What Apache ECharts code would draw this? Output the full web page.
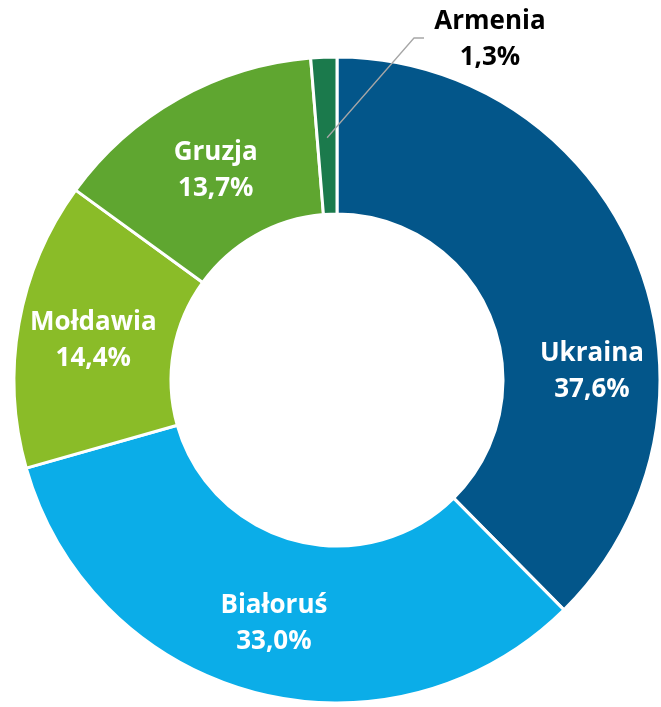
<!DOCTYPE html>
<html>
<head>
<meta charset="utf-8">
<script src="https://cdn.jsdelivr.net/npm/echarts@6/dist/echarts.min.js"></script>
<style>
html,body{margin:0;padding:0;background:#fff;}
#chart{width:661px;height:707px;}
</style>
</head>
<body>
<div id="chart"></div>
<script>
const categories = ['Ukraina', 'Białoruś', 'Mołdawia', 'Gruzja', 'Armenia'];
const values = [37.6, 33.0, 14.4, 13.7, 1.3];
const colors = ['#03568A', '#0BADE8', '#8ABC28', '#5FA630', '#1B7A4C'];

const CX = 337, CY = 380, R_IN = 166, R_OUT = 323;
const fmt = v => v.toFixed(1).replace('.', ',') + '%';

const chart = echarts.init(document.getElementById('chart'), null, {renderer: 'canvas'});

const total = values.reduce((a, b) => a + b, 0);
function midAngle(i) {
  let before = 0;
  for (let k = 0; k < i; k++) before += values[k];
  return (before + values[i] / 2) / total * 2 * Math.PI; // clockwise from top
}

const ARM = categories.indexOf('Armenia');
const ARM_LABEL = [490, 40];

const data = categories.map((name, i) => {
  const item = {name: name, value: values[i], itemStyle: {color: colors[i]}};
  if (i === ARM) {
    item.label = {position: 'outside', color: '#000'};
  }
  return item;
});

// leader line for Armenia, from slice middle to its label
const a = midAngle(ARM);
const rMid = (R_IN + R_OUT) / 2 - 2;
const sx = CX + rMid * Math.sin(a);
const sy = CY - rMid * Math.cos(a);
const ex = ARM_LABEL[0] - 66;
const ly = 38;

chart.setOption({
  animation: false,
  series: [{
    type: 'pie',
    center: [CX, CY],
    radius: [R_IN, R_OUT],
    startAngle: 90,
    clockwise: true,
    avoidLabelOverlap: false,
    itemStyle: {borderColor: '#fff', borderWidth: 3},
    label: {
      show: true,
      position: 'inside',
      formatter: p => p.name + '\n' + fmt(p.value),
      color: '#fff',
      fontFamily: 'Open Sans',
      fontWeight: 'bold',
      fontSize: 26,
      lineHeight: 36,
      align: 'center'
    },
    labelLine: {show: false},
    labelLayout: function (params) {
      const i = params.dataIndex;
      if (categories[i] === 'Ukraina') return {dx: 26, dy: 86};
      if (categories[i] === 'Gruzja') return {dx: 0, dy: 6};
      if (i === ARM) {
        return {x: ARM_LABEL[0], y: ARM_LABEL[1], align: 'center', verticalAlign: 'middle'};
      }
      return {dx: 0, dy: 4};
    },
    data: data
  }],
  graphic: [{
    type: 'polyline',
    z: 100,
    shape: {points: [[sx, sy], [ex - 10, ly], [ex, ly]]},
    style: {stroke: '#a6a6a6', lineWidth: 1.3, fill: null}
  }]
});
</script>
</body>
</html>
